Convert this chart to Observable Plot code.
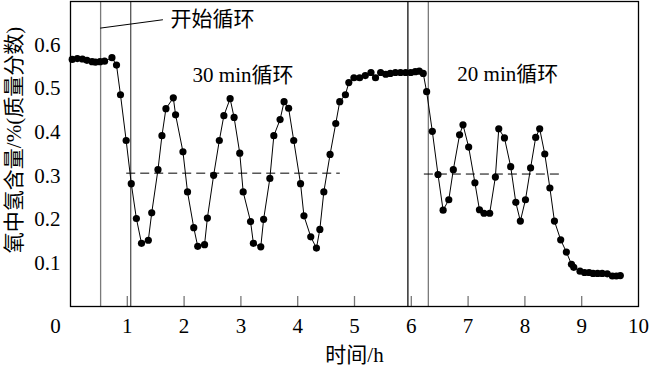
<!DOCTYPE html>
<html><head><meta charset="utf-8">
<script src="https://cdn.jsdelivr.net/npm/d3@7"></script>
<script src="https://cdn.jsdelivr.net/npm/@observablehq/plot@0.6"></script>
<style>body{margin:0;background:#fff}</style>
</head><body><div id="chart"></div>
<script>
const time = [0.03,0.12,0.21,0.29,0.38,0.44,0.52,0.60,0.73,0.81,
0.88,0.98,1.07,1.16,1.25,1.37,1.43,1.54,1.61,1.68,
1.81,1.85,1.98,2.06,2.17,2.24,2.36,2.41,2.52,2.62,
2.70,2.81,2.88,2.98,3.04,3.17,3.22,3.35,3.40,3.51,
3.58,3.69,3.76,3.84,3.93,4.05,4.11,4.23,4.33,4.39,
4.46,4.57,4.67,4.74,4.84,4.90,4.99,5.09,5.19,5.29,
5.37,5.46,5.55,5.63,5.72,5.81,5.90,5.99,6.07,6.14,
6.21,6.27,6.37,6.47,6.56,6.66,6.74,6.85,6.91,7.01,
7.12,7.20,7.28,7.38,7.48,7.54,7.64,7.75,7.84,7.92,
8.01,8.10,8.19,8.26,8.35,8.44,8.52,8.63,8.73,8.82,
8.86,8.97,9.05,9.13,9.20,9.28,9.36,9.45,9.54,9.61,
9.68];
const h2 = [0.567,0.569,0.568,0.565,0.562,0.561,0.562,0.563,0.571,0.554,
0.486,0.381,0.282,0.202,0.145,0.152,0.215,0.314,0.392,0.454,
0.479,0.44,0.355,0.263,0.181,0.138,0.142,0.203,0.301,0.381,
0.438,0.477,0.434,0.352,0.263,0.195,0.145,0.137,0.2,0.294,
0.392,0.429,0.47,0.455,0.381,0.282,0.208,0.16,0.134,0.177,
0.263,0.349,0.42,0.47,0.486,0.514,0.525,0.525,0.53,0.537,
0.525,0.537,0.533,0.535,0.537,0.537,0.537,0.537,0.539,0.54,
0.535,0.493,0.402,0.303,0.221,0.245,0.314,0.394,0.417,0.366,
0.284,0.222,0.214,0.214,0.297,0.408,0.387,0.321,0.239,0.196,
0.245,0.318,0.388,0.408,0.35,0.272,0.196,0.153,0.125,0.097,
0.09,0.081,0.078,0.078,0.076,0.076,0.076,0.075,0.07,0.07,
0.071];

const xTicks = [0,1,2,3,4,5,6,7,8,9,10];
const yTicks = [0.1,0.2,0.3,0.4,0.5,0.6];

// vertical marker lines (time in h)
const markerTime = [0.53, 1.06, 5.94, 6.30];
const markerColor = ["#7a7a7a", "#555555", "#111111", "#7a7a7a"];

// mean-level dashed lines
const meanLevel = [0.306, 0.304];
const meanStart = [0.99, 6.23];
const meanEnd = [4.75, 8.68];

// annotation texts
const noteText = ["开始循环", "30 min循环", "20 min循环"];
const noteX = [1.76, 2.15, 6.81];
const noteY = [0.66, 0.53, 0.532];
// leader line of "开始循环"
const leaderX = [0.53, 1.62];
const leaderY = [0.639, 0.658];

const xLabel = "时间/h";
const yLabel = "氧中氢含量/%(质量分数)";

const data = time.map((t, i) => ({t, v: h2[i]}));
const markers = markerTime.map((t, i) => ({t, c: markerColor[i]}));
const means = meanLevel.map((v, i) => ({v, x1: meanStart[i], x2: meanEnd[i]}));
const notes = noteText.map((s, i) => ({s, x: noteX[i], y: noteY[i]}));
const leader = leaderX.map((x, i) => ({x, y: leaderY[i]}));

const FONT = '"Liberation Serif", "Noto Sans CJK SC", serif';

const chart = Plot.plot({
  width: 652, height: 371,
  marginLeft: 70, marginRight: 14, marginTop: 1, marginBottom: 65,
  x: {domain: [0, 10]},
  y: {domain: [0, 0.7]},
  style: {fontFamily: FONT, fontSize: "21px", color: "black", background: "white"},
  marks: [
    Plot.ruleX(markers, {x: "t", stroke: "c", strokeWidth: 1.3}),
    Plot.ruleY(means, {y: "v", x1: "x1", x2: "x2", stroke: "black", strokeWidth: 1, strokeDasharray: "9,5"}),
    Plot.line(leader, {x: "x", y: "y", stroke: "black", strokeWidth: 1}),
    Plot.line(data, {x: "t", y: "v", stroke: "black", strokeWidth: 1}),
    Plot.dot(data, {x: "t", y: "v", r: 3.6, fill: "black"}),
    Plot.text(notes, {x: "x", y: "y", text: "s", textAnchor: "start", fontSize: 21, fill: "black"}),
    Plot.tickX(xTicks.slice(1, 10), {x: d => d, insetTop: 295, stroke: "#777", strokeWidth: 1.3}),
    Plot.axisX(xTicks.slice(1), {tickSize: 0, tickPadding: 12, fontSize: 21, label: null}),
    Plot.text([String(xTicks[0])], {x: xTicks[0], frameAnchor: "bottom", lineAnchor: "top", dx: -15, dy: 12, fontSize: 21}),
    Plot.axisY(yTicks, {tickSize: 0, tickPadding: 10, fontSize: 21, label: null, tickFormat: d => d.toFixed(1)}),
    Plot.text([xLabel], {frameAnchor: "bottom", lineAnchor: "middle", dy: 49, fontSize: 21, text: d => d}),
    Plot.text([yLabel], {frameAnchor: "left", textAnchor: "middle", lineAnchor: "middle", dx: -56, dy: -14, rotate: -90, fontSize: 21, text: d => d}),
    Plot.frame({stroke: "black", strokeWidth: 1.3})
  ]
});
document.getElementById("chart").appendChild(chart);
</script>
</body></html>
